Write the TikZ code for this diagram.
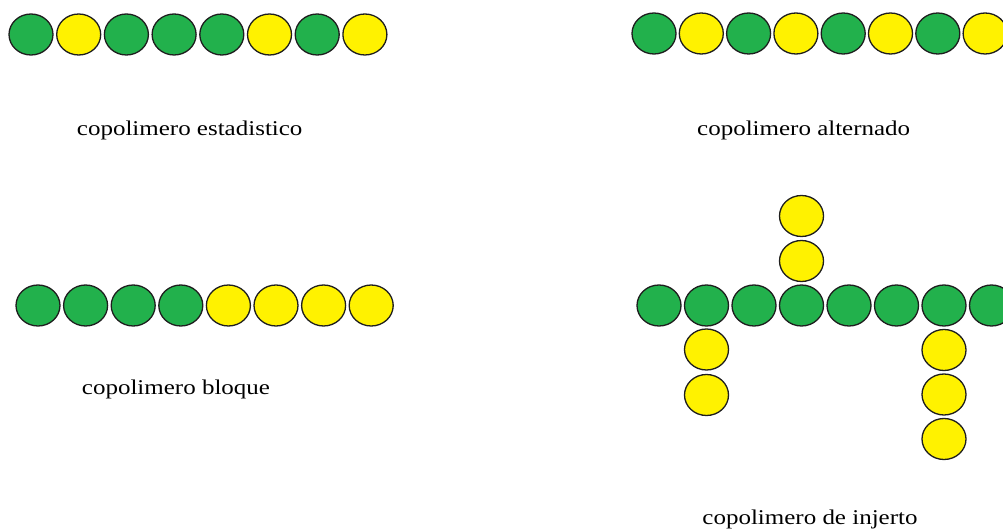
\documentclass[tikz,border=0pt]{standalone}
\usepackage{fontspec}
\setmainfont{Liberation Serif}[FakeStretch=1.19]
\usetikzlibrary{shapes.geometric}
\definecolor{gr}{HTML}{22B14C}
\definecolor{ye}{HTML}{FFF200}
\definecolor{rim}{HTML}{1E1E1E}

\begin{document}
\begin{tikzpicture}[x=1pt,y=-1pt,font=\fontsize{21}{25}\selectfont,
  bead/.style={ellipse,draw=rim,line width=1.3pt,inner sep=0pt,
    minimum width=44pt,minimum height=41pt},
  caption/.style={anchor=base,inner sep=0pt}]
  \useasboundingbox (0,0) rectangle (1003,529);
  \clip (0,0) rectangle (1003,529);

  % statistical
  \foreach \c [count=\i from 0] in {gr,ye,gr,gr,gr,ye,gr,ye}
    \node[bead,fill=\c] (st\i) at ({31+47.7*\i},34.5) {};
  \node[caption] (stlabel) at (189.7,136) {copolimero estadistico};

  % alternating
  \foreach \c [count=\i from 0] in {gr,ye,gr,ye,gr,ye,gr,ye}
    \node[bead,fill=\c] (al\i) at ({654+47.3*\i},33.5) {};
  \node[caption] (allabel) at (803.7,136) {copolimero alternado};

  % block
  \foreach \c [count=\i from 0] in {gr,gr,gr,gr,ye,ye,ye,ye}
    \node[bead,fill=\c] (bl\i) at ({38+47.6*\i},305.5) {};
  \node[caption] (bllabel) at (176,394) {copolimero bloque};

  % graft: backbone and side chains
  \foreach \i in {0,...,7}
    \node[bead,fill=gr] (gf\i) at ({659+47.5*\i},305.5) {};
  \foreach \y [count=\j] in {261,216}
    \node[bead,fill=ye] (up\j) at (801.5,\y) {};
  \foreach \y [count=\j] in {349.5,395}
    \node[bead,fill=ye] (dl\j) at (706.5,\y) {};
  \foreach \y [count=\j] in {350,394.5,439}
    \node[bead,fill=ye] (dr\j) at (944,\y) {};
  \node[caption] (gflabel) at (810,524) {copolimero de injerto};
\end{tikzpicture}
\end{document}
